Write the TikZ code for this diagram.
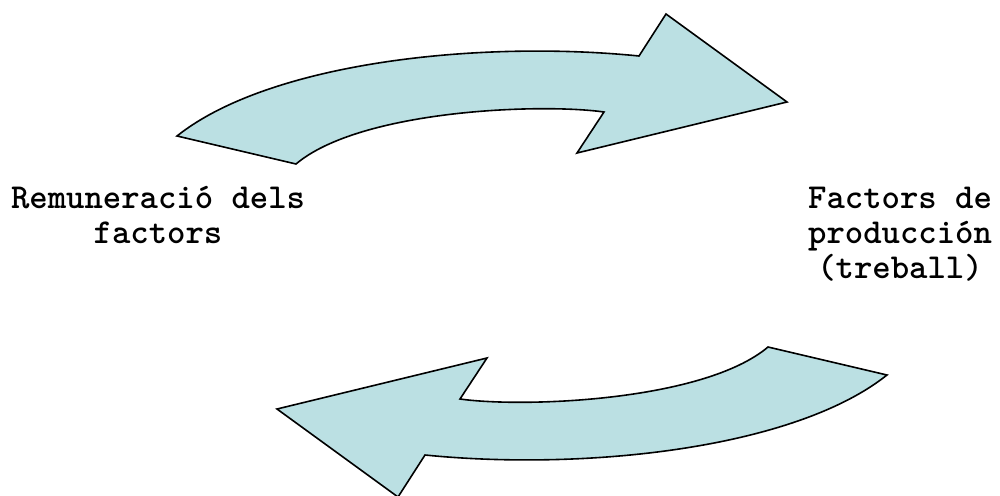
\documentclass[tikz,border=0pt]{standalone}
\usepackage{fontspec}
\begin{document}
\begin{tikzpicture}[x=1pt,y=-1pt]
  \definecolor{flowfill}{RGB}{187,224,227}
  \tikzset{
    flowarrow/.style={draw=black, line width=1.6pt, fill=flowfill, line join=miter},
    flowlabel/.style={align=center, inner sep=0pt, anchor=north,
      font=\ttfamily\bfseries\fontsize{35}{35}\selectfont}
  }
  \path[use as bounding box] (0,0) rectangle (1000,495);

  % curved arrow shape: tail on the left, head on the right
  \def\curvedarrow{%
    (177,136) .. controls (270,62) and (480,40) .. (639,56)
    -- (666,14) -- (787,102) -- (577,153) -- (604,112)
    .. controls (540,103) and (360,110) .. (296,164) -- cycle}

  % upper arrow
  \path[flowarrow] \curvedarrow;
  % lower arrow: the same shape turned half a turn
  \begin{scope}[rotate around={180:(532,255.5)}]
    \path[flowarrow] \curvedarrow;
  \end{scope}

  \node[flowlabel] (rem) at (158,183.5) {\strut Remuneració dels\\factors};
  \node[flowlabel] (fac) at (900,183.5) {\strut Factors de\\producción\\(treball)};
\end{tikzpicture}
\end{document}
